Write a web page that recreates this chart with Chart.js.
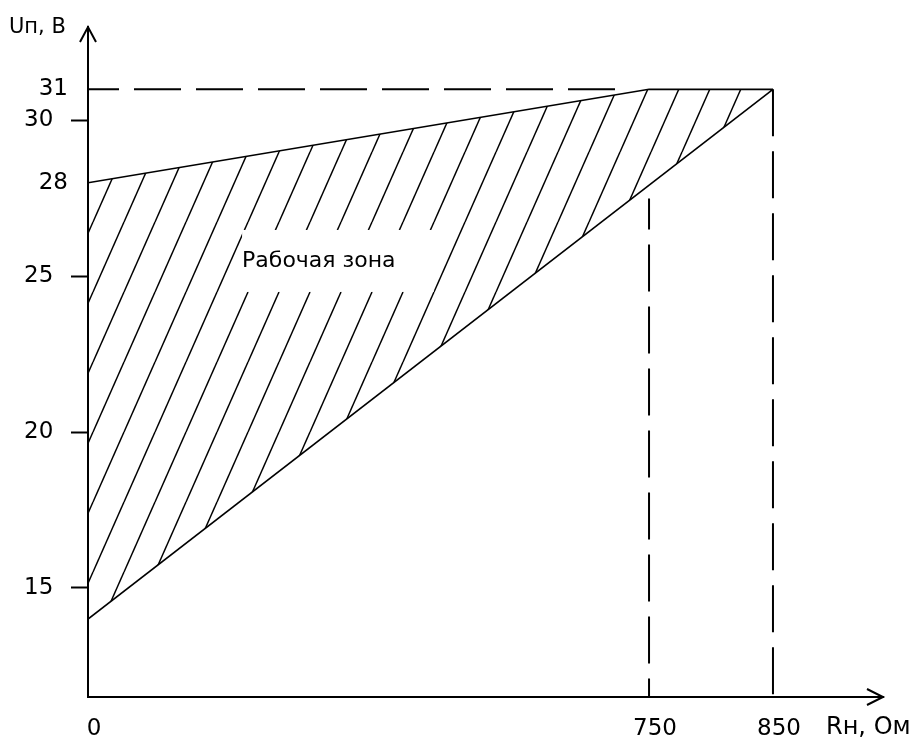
<!DOCTYPE html>
<html>
<head>
<meta charset="utf-8">
<script src="https://cdn.jsdelivr.net/npm/chart.js@4.4.1/dist/chart.umd.min.js"></script>
<style>
  html, body { margin: 0; padding: 0; background: #fff; }
  #wrap { width: 915px; height: 737px; }
</style>
</head>
<body>
<div id="wrap"><canvas id="chart" width="915" height="737"></canvas></div>
<script>
// Rн, Ом по горизонтали, Uп, В по вертикали
const xTicks = [0, 750, 850];
const yTicks = [31, 30, 28, 25, 20, 15];
const xMin = 0, xMax = 940;
const yMin = 11.5, yMax = 33;

// верхняя граница рабочей зоны
const upperR = [0, 750, 850];
const upperU = [28, 31, 31];
// нижняя граница
const lowerR = [0, 850];
const lowerU = [14, 31];

// штриховые линии
const dash31R = [0, 710];
const dash31U = [31, 31];
const dash750R = [750, 750];
const dash750U = [27.5, yMin];
const dash850R = [850, 850];
const dash850U = [31, yMin];

const zoneLabel = "Рабочая зона";
const zoneLabelAt = [206, 25.3];
const xTitle = "Rн, Ом";
const yTitle = "Uп, В";

const FONT = '"DejaVu Sans", sans-serif';

// ось R нарисована не в масштабе: кусочно-линейная шкала
class StretchedScale extends Chart.LinearScale {
  getPixelForValue(value) {
    const s = this.options.stops;
    let i = 1;
    while (i < s.length - 1 && value > s[i][0]) i++;
    const f = s[i - 1][1] + (value - s[i - 1][0]) / (s[i][0] - s[i - 1][0]) * (s[i][1] - s[i - 1][1]);
    return this.getPixelForDecimal(f);
  }
  getValueForPixel(pixel) {
    const s = this.options.stops;
    const f = this.getDecimalForPixel(pixel);
    let i = 1;
    while (i < s.length - 1 && f > s[i][1]) i++;
    return s[i - 1][0] + (f - s[i - 1][1]) / (s[i][1] - s[i - 1][1]) * (s[i][0] - s[i - 1][0]);
  }
}
StretchedScale.id = 'stretched';
StretchedScale.defaults = Chart.LinearScale.defaults;
Chart.register(StretchedScale);

const pts = (xs, ys) => xs.map((x, i) => ({ x: x, y: ys[i] }));

const canvas = document.getElementById("chart");
const ctx = canvas.getContext("2d");

// штриховка
function makeHatch() {
  const w = 31, h = 70;
  const tile = document.createElement("canvas");
  tile.width = w; tile.height = h;
  const t = tile.getContext("2d");
  t.strokeStyle = "#000";
  t.lineWidth = 1.5;
  [-w, 0, w].forEach(dx => {
    t.beginPath();
    t.moveTo(dx, h);
    t.lineTo(dx + w, 0);
    t.stroke();
  });
  const p = ctx.createPattern(tile, "repeat");
  p.setTransform(new DOMMatrix().translate(0, 12));
  return p;
}

const sketch = {
  id: "sketch",
  afterDatasetsDraw(chart) {
    const c = chart.ctx, x = chart.scales.x, y = chart.scales.y;
    c.save();
    c.font = "22px " + FONT;
    const tx = x.getPixelForValue(zoneLabelAt[0]);
    const ty = y.getPixelForValue(zoneLabelAt[1]);
    const tw = c.measureText(zoneLabel).width;
    c.fillStyle = "#fff";
    c.fillRect(tx, ty - 37, tw + 38, 62);
    c.fillStyle = "#000";
    c.textBaseline = "alphabetic";
    c.fillText(zoneLabel, tx, ty);
    c.restore();
  },
  afterDraw(chart) {
    const c = chart.ctx, a = chart.chartArea;
    c.save();
    c.strokeStyle = "#000";
    c.lineWidth = 2;
    c.beginPath();
    c.moveTo(a.left - 8, a.top + 15);
    c.lineTo(a.left, a.top);
    c.lineTo(a.left + 8, a.top + 15);
    c.moveTo(a.right - 16, a.bottom - 8);
    c.lineTo(a.right, a.bottom);
    c.lineTo(a.right - 16, a.bottom + 8);
    c.stroke();
    c.fillStyle = "#000";
    c.textBaseline = "alphabetic";
    c.font = "21px " + FONT;
    c.fillText(yTitle, a.left - 79, a.top + 6);
    c.font = "24px " + FONT;
    c.fillText(xTitle, a.right - 57, a.bottom + 37);
    c.restore();
  }
};

const plain = { borderColor: "#000", pointRadius: 0, tension: 0, fill: false };

new Chart(ctx, {
  type: "line",
  data: {
    datasets: [
      Object.assign({}, plain, { data: pts(upperR, upperU), borderWidth: 1.6, fill: "+1", backgroundColor: makeHatch() }),
      Object.assign({}, plain, { data: pts(lowerR, lowerU), borderWidth: 1.6 }),
      Object.assign({}, plain, { data: pts(dash31R, dash31U), borderWidth: 2, borderDash: [47, 15], borderDashOffset: 16 }),
      Object.assign({}, plain, { data: pts(dash750R, dash750U), borderWidth: 2, borderDash: [47, 15], borderDashOffset: 16 }),
      Object.assign({}, plain, { data: pts(dash850R, dash850U), borderWidth: 2, borderDash: [47, 15] })
    ]
  },
  options: {
    responsive: false,
    animation: false,
    events: [],
    layout: { padding: { left: 0, top: 27, right: 32, bottom: 0 } },
    plugins: { legend: { display: false }, tooltip: { enabled: false } },
    scales: {
      x: {
        type: "stretched",
        min: xMin, max: xMax,
        stops: [[0, 0], [750, 0.7057], [850, 0.8616], [940, 1]],
        afterBuildTicks: s => { s.ticks = xTicks.map(v => ({ value: v })); },
        afterFit: s => { s.height = 40; },
        grid: { drawOnChartArea: false, drawTicks: false },
        border: { display: true, color: "#000", width: 2 },
        ticks: {
          padding: 18, labelOffset: 6, maxRotation: 0, autoSkip: false,
          color: "#000", font: { family: FONT, size: 23 },
          callback: v => String(v)
        }
      },
      y: {
        type: "linear",
        min: yMin, max: yMax,
        afterBuildTicks: s => { s.ticks = yTicks.map(v => ({ value: v })); },
        afterFit: s => { s.width = 88; },
        grid: {
          drawOnChartArea: false, drawTicks: true, tickLength: 17, tickWidth: 2,
          tickColor: c => (c.tick && c.tick.value % 5 === 0) ? "#000" : "rgba(0,0,0,0)"
        },
        border: { display: true, color: "#000", width: 2 },
        ticks: {
          padding: 3, autoSkip: false,
          color: "#000", font: { family: FONT, size: 23 },
          callback: v => v % 5 === 0 ? v + "  " : String(v)
        }
      }
    }
  },
  plugins: [sketch]
});
</script>
</body>
</html>
